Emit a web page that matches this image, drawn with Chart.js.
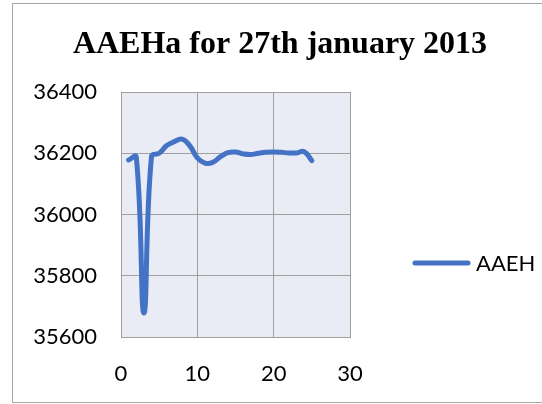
<!DOCTYPE html>
<html>
<head>
<meta charset="utf-8">
<script src="https://cdn.jsdelivr.net/npm/chart.js@4/dist/chart.umd.min.js"></script>
<style>
  html, body { margin: 0; padding: 0; background: #ffffff; }
  #wrap { position: relative; width: 542px; height: 404px; }
</style>
</head>
<body>
<div id="wrap"><canvas id="chart" width="542" height="404"></canvas></div>
<script>
// Readings for 27 January 2013
const seriesName = 'AAEH';
const sampleIndex = [1, 2, 3, 4, 5, 6, 7, 8, 9, 10, 11, 12, 13, 14, 15, 16, 17, 18, 19, 20, 21, 22, 23, 24, 25];
const aaehValues = [36178, 36188, 35678, 36190, 36200, 36225, 36238, 36246, 36225, 36185, 36168, 36170, 36188,
                    36202, 36204, 36198, 36196, 36200, 36203, 36204, 36203, 36201, 36201, 36205, 36176];
const xTicks = [0, 10, 20, 30];
const yTicks = [35600, 35800, 36000, 36200, 36400];

const LINE_BLUE = '#4472C4';
const GRID_GREY = '#A0A0A0';
const PLOT_FILL = '#E9EBF5';
const TICK_FONT = { family: 'Lato, "Open Sans", sans-serif', size: 22 };

// outer frame and plot background
const framePlugin = {
  id: 'frame',
  beforeDraw(chart) {
    const ctx = chart.ctx;
    const a = chart.chartArea;
    ctx.save();
    ctx.strokeStyle = '#A6A6A6';
    ctx.lineWidth = 1;
    ctx.strokeRect(12.5, 3.5, 545, 399);
    ctx.fillStyle = PLOT_FILL;
    ctx.fillRect(a.left, a.top, a.right - a.left, a.bottom - a.top);
    ctx.restore();
  }
};

// legend entry to the right of the plot
const sideLegend = {
  id: 'sideLegend',
  afterDraw(chart) {
    const ctx = chart.ctx;
    const ds = chart.data.datasets[0];
    const y = 263;
    ctx.save();
    ctx.strokeStyle = ds.borderColor;
    ctx.lineWidth = 5;
    ctx.lineCap = 'round';
    ctx.beginPath();
    ctx.moveTo(415, y);
    ctx.lineTo(468, y);
    ctx.stroke();
    ctx.fillStyle = '#000000';
    ctx.font = `${TICK_FONT.size}px ${TICK_FONT.family}`;
    ctx.textBaseline = 'middle';
    ctx.textAlign = 'left';
    ctx.fillText(ds.label, 476, y + 1);
    ctx.restore();
  }
};

new Chart(document.getElementById('chart'), {
  type: 'scatter',
  data: {
    datasets: [{
      label: seriesName,
      data: sampleIndex.map((x, i) => ({ x: x, y: aaehValues[i] })),
      showLine: true,
      borderColor: LINE_BLUE,
      backgroundColor: LINE_BLUE,
      borderWidth: 5,
      borderCapStyle: 'round',
      borderJoinStyle: 'round',
      pointRadius: 0,
      pointHoverRadius: 0,
      tension: 0.45
    }]
  },
  options: {
    responsive: false,
    animation: false,
    events: [],
    layout: { padding: { left: 18, right: 0, top: 0, bottom: 0 } },
    plugins: {
      legend: { display: false },
      tooltip: { enabled: false },
      title: {
        display: true,
        text: 'AAEHa for 27th january 2013',
        color: '#000000',
        font: { family: '"Liberation Serif", "Times New Roman", serif', size: 32, weight: 'bold', lineHeight: 1.2 },
        padding: { top: 26, bottom: 27.6 }
      }
    },
    scales: {
      x: {
        type: 'linear',
        min: xTicks[0],
        max: xTicks[xTicks.length - 1],
        afterBuildTicks(scale) { scale.ticks = xTicks.map(v => ({ value: v })); },
        afterFit(scale) { scale.height = 67; },
        grid: { color: GRID_GREY, lineWidth: 1, drawTicks: false },
        border: { color: GRID_GREY, width: 1 },
        ticks: { color: '#000000', font: TICK_FONT, padding: 24, maxRotation: 0 }
      },
      y: {
        type: 'linear',
        min: yTicks[0],
        max: yTicks[yTicks.length - 1],
        afterBuildTicks(scale) { scale.ticks = yTicks.map(v => ({ value: v })); },
        afterFit(scale) { scale.width = 103; },
        grid: { color: GRID_GREY, lineWidth: 1, drawTicks: false },
        border: { color: GRID_GREY, width: 1 },
        ticks: { color: '#000000', font: TICK_FONT, padding: 24, callback: v => String(v) }
      },
      // empty strip on the right that holds the legend entry
      legendSpace: {
        type: 'linear',
        position: 'right',
        display: true,
        min: yTicks[0],
        max: yTicks[yTicks.length - 1],
        afterFit(scale) { scale.width = 192; },
        grid: { display: false, drawTicks: false },
        border: { display: false },
        ticks: { display: false }
      }
    }
  },
  plugins: [framePlugin, sideLegend]
});
</script>
</body>
</html>
